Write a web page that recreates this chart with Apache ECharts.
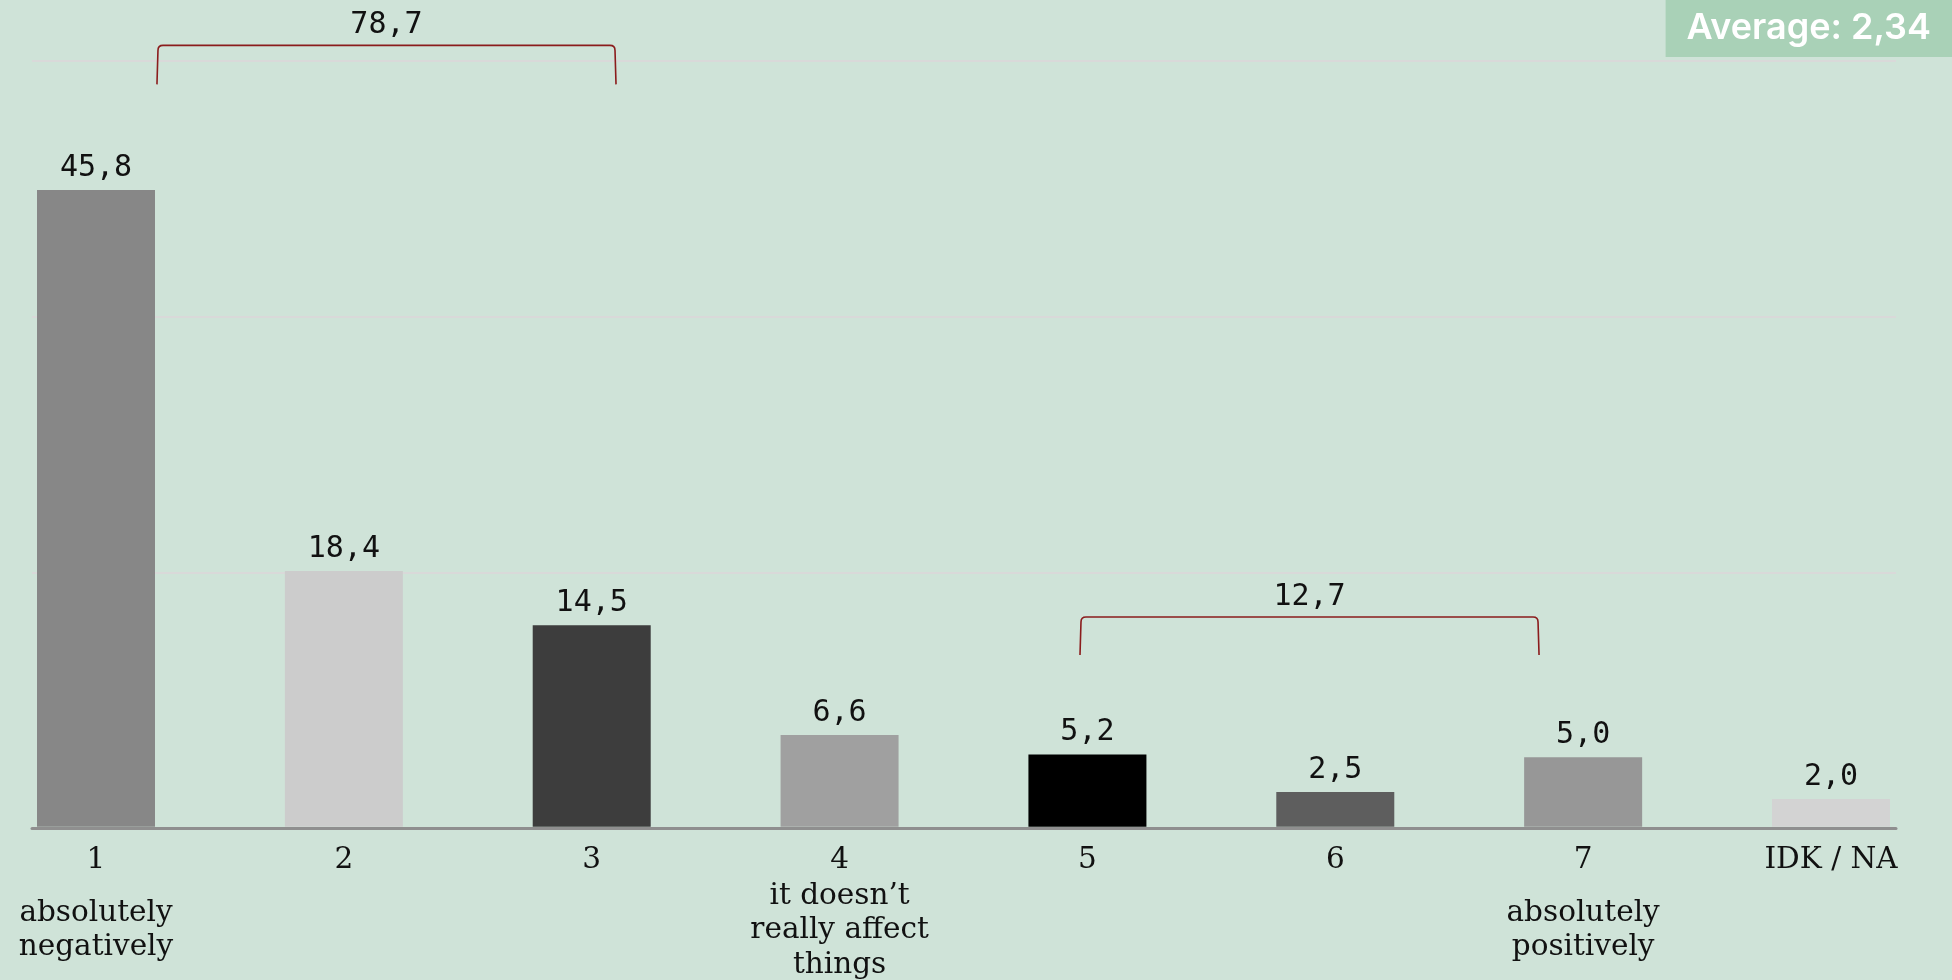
<!DOCTYPE html>
<html>
<head>
<meta charset="utf-8">
<script src="https://cdn.jsdelivr.net/npm/echarts@6/dist/echarts.min.js"></script>
<style>
  html, body { margin: 0; padding: 0; background: #cfe3d8; }
  #chart { width: 1952px; height: 980px; }
</style>
</head>
<body>
<div id="chart"></div>
<script>
// ---- data ----
var categories = ['1', '2', '3', '4', '5', '6', '7', 'IDK / NA'];
var descriptions = ['absolutely\nnegatively', '', '', 'it doesn\u2019t\nreally affect\nthings', '', '', 'absolutely\npositively', ''];
var values = [45.8, 18.4, 14.5, 6.6, 5.2, 2.5, 5.0, 2.0];
var barColors = ['#878787', '#cccccc', '#3d3d3d', '#a0a0a0', '#000000', '#5e5e5e', '#979797', '#d3d3d3'];
// brackets (category-index units / value units)
var bracketLabels = ['78,7', '12,7'];
var bracketFrom = [0.25, 3.974];
var bracketTo = [2.094, 5.818];
var bracketTop = [56.2, 15.15];
var bracketFoot = [53.4, 12.42];
var averageText = 'Average: 2,34';
// y-axis settings
var yMax = 55.08;
var yStep = 18.36;

var chart = echarts.init(document.getElementById('chart'), null, { renderer: 'canvas' });

function fmt(v) { return v.toFixed(1).replace('.', ','); }

var bracketData = bracketLabels.map(function (l, i) {
  return [bracketFrom[i], bracketTo[i], bracketTop[i], bracketFoot[i], l];
});

var option = {
  backgroundColor: '#cfe3d8',
  animation: false,
  title: {
    text: averageText,
    right: 0,
    top: 0,
    backgroundColor: '#a9d1b7',
    padding: [10, 21, 10, 21],
    textStyle: {
      color: '#ffffff',
      fontFamily: 'Inter',
      fontWeight: 600,
      fontSize: 36,
      lineHeight: 37
    }
  },
  grid: [
    { left: 32, right: 56, top: 61, bottom: 152 },
    { left: 96, right: 121, top: 61, bottom: 152 }
  ],
  xAxis: [
    {
      type: 'value', gridIndex: 0,
      min: -0.2582, max: 7.2622,
      axisLine: { show: true, onZero: false, lineStyle: { color: '#8f8f8f', width: 3 } },
      axisTick: { show: false },
      axisLabel: { show: false },
      splitLine: { show: false }
    },
    {
      type: 'category', gridIndex: 1,
      data: categories,
      boundaryGap: false,
      axisLine: { show: false },
      axisTick: { show: false },
      splitLine: { show: false },
      axisLabel: {
        interval: 0,
        margin: 16,
        formatter: function (v, idx) {
          var s = '{n|' + v + '}';
          var d = descriptions[idx];
          if (d) {
            var lines = d.split('\n');
            if (lines.length < 3) s += '\n{s| }';
            lines.forEach(function (ln) { s += '\n{d|' + ln + '}'; });
          }
          return s;
        },
        rich: {
          n: { fontFamily: 'DejaVu Serif', fontSize: 29.5, lineHeight: 36, color: '#111111', align: 'center' },
          d: { fontFamily: 'DejaVu Serif', fontSize: 29.5, lineHeight: 34.5, color: '#111111', align: 'center' },
          s: { fontSize: 10, lineHeight: 17 }
        }
      }
    }
  ],
  yAxis: [
    {
      type: 'value', gridIndex: 0,
      min: 0, max: yMax, interval: yStep,
      axisLine: { show: false },
      axisTick: { show: false },
      axisLabel: { show: false },
      splitLine: { show: true, lineStyle: { color: '#d9d9d9', width: 2 } }
    },
    {
      type: 'value', gridIndex: 1,
      min: 0, max: yMax, interval: yStep,
      axisLine: { show: false },
      axisTick: { show: false },
      axisLabel: { show: false },
      splitLine: { show: false }
    }
  ],
  series: [
    {
      type: 'bar',
      xAxisIndex: 1, yAxisIndex: 1,
      barWidth: 118,
      clip: false,
      data: values.map(function (v, i) {
        return { value: v, itemStyle: { color: barColors[i] } };
      }),
      label: {
        show: true,
        position: 'top',
        distance: 7,
        fontFamily: 'DejaVu Sans Mono',
        fontSize: 30,
        color: '#111111',
        formatter: function (p) { return fmt(p.value); }
      }
    },
    {
      type: 'custom',
      xAxisIndex: 0, yAxisIndex: 0,
      clip: false,
      data: bracketData,
      renderItem: function (params, api) {
        var a = api.coord([api.value(0), api.value(2)]);
        var b = api.coord([api.value(1), api.value(2)]);
        var f = api.coord([api.value(0), api.value(3)]);
        var r = 5;
        var x0 = a[0], x1 = b[0], yt = a[1], yb = f[1];
        var path = 'M' + (x0 - 1) + ' ' + yb +
          ' L' + x0 + ' ' + (yt + r) +
          ' Q' + x0 + ' ' + yt + ' ' + (x0 + r) + ' ' + yt +
          ' L' + (x1 - r) + ' ' + yt +
          ' Q' + x1 + ' ' + yt + ' ' + x1 + ' ' + (yt + r) +
          ' L' + (x1 + 1) + ' ' + yb;
        var label = bracketData[params.dataIndex][4];
        return {
          type: 'group',
          children: [
            {
              type: 'path',
              shape: { pathData: path },
              style: { fill: null, stroke: '#8b1c1c', lineWidth: 1.6 }
            },
            {
              type: 'text',
              x: (x0 + x1) / 2,
              y: yt - 5,
              style: {
                text: label,
                align: 'center',
                verticalAlign: 'bottom',
                fontFamily: 'DejaVu Sans Mono',
                fontSize: 30,
                fill: '#111111'
              }
            }
          ]
        };
      }
    }
  ]
};

chart.setOption(option);
</script>
</body>
</html>
